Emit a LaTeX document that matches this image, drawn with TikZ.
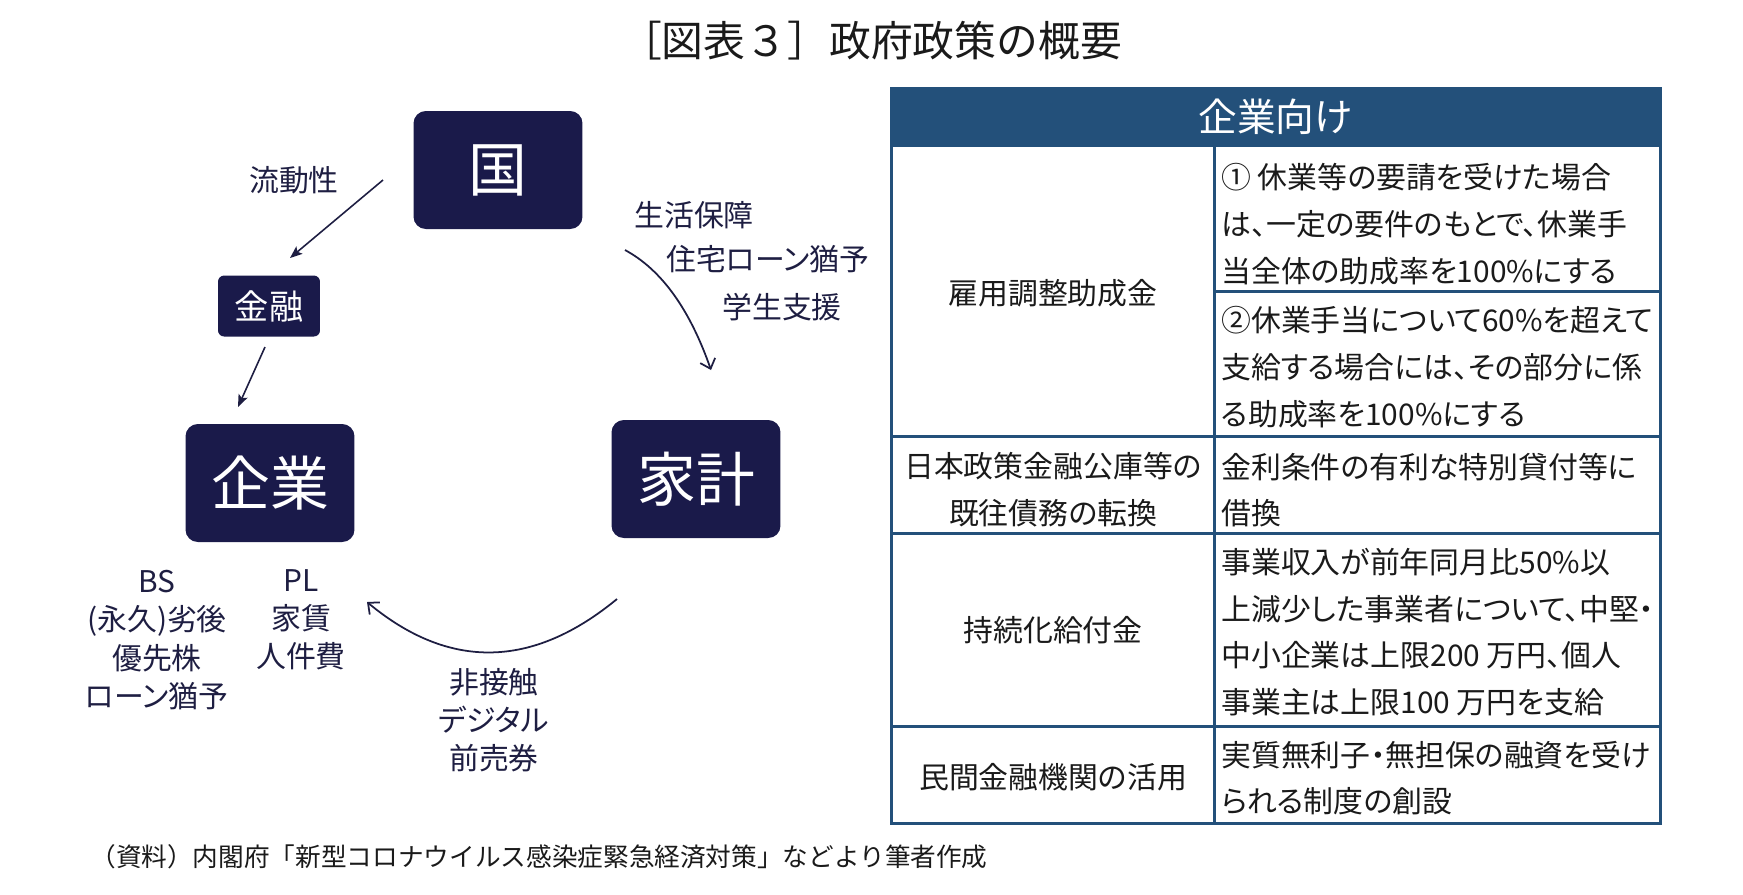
\documentclass[tikz,border=0pt]{standalone}
\usepackage{fontspec}
\setmainfont{Noto Sans CJK JP}[RawFeature=+palt]
\newfontfamily\ttlfont{Noto Sans CJK JP}
\usepackage{xcolor}
\usetikzlibrary{arrows.meta}

\definecolor{boxnavy}{HTML}{1A1A4A}
\definecolor{inknavy}{HTML}{1E1E42}
\definecolor{tblblue}{HTML}{23507A}
\definecolor{tblink}{HTML}{1A1A1A}

\begin{document}
\begin{tikzpicture}[x=0.02cm, y=-0.02cm,
    bigbox/.style={fill=boxnavy, rounded corners=7pt, text=white, minimum width=3.38cm, minimum height=2.36cm, font=\fontsize{33.5}{40}\selectfont},
    smallbox/.style={fill=boxnavy, rounded corners=3.5pt, text=white, minimum width=2.04cm, minimum height=1.22cm, font=\fontsize{19.5}{24}\selectfont},
    lbl/.style={text=inknavy, inner sep=0pt, font=\fontsize{17}{21.7}\selectfont},
    arr/.style={draw=inknavy, line width=0.9pt, -{Stealth[length=7pt, width=5.5pt, inset=1.5pt]}},
    carr/.style={draw=inknavy, line width=1pt, -{Straight Barb[length=5pt, width=9pt]}},
    tblline/.style={draw=tblblue, line width=1.7pt},
    cell/.style={text=tblink, inner sep=0pt, font=\fontsize{17}{26.6}\selectfont}]
    \useasboundingbox (0,0) rectangle (1743,894);

    % title
    \node[text=tblink, font=\ttlfont\fontsize{23.8}{28}\selectfont] (ttl) at (871,41) {［図表３］政府政策の概要};

    % diagram
    \node[bigbox] (gov) at (498,170) {国};
    \node[smallbox] (fin) at (269,306) {金融};
    \node[bigbox] (firm) at (270,483) {企業};
    \node[bigbox] (home) at (696,479) {家計};

    \node[lbl] (liq) at (294,180) {流動性};
    \node[lbl, anchor=west] (life) at (634,215) {生活保障};
    \node[lbl, anchor=west] (hloan) at (666,259) {住宅ローン猶予};
    \node[lbl, anchor=west] (study) at (722,307) {学生支援};
    \node[lbl, align=center] (bs) at (157,640) {BS\\(永久)劣後\\優先株\\ローン猶予};
    \node[lbl, align=center] (pl) at (301,620) {PL\\家賃\\人件費};
    \node[lbl, align=center] (sales) at (494,720) {非接触\\デジタル\\前売券};

    \coordinate (liqtail) at (383,180);
    \coordinate (liqhead) at (290,258);
    \coordinate (fintail) at (265,347);
    \coordinate (finhead) at (238,407);
    \coordinate (suptail) at (625,250);
    \coordinate (suphead) at (711,370);
    \coordinate (saletail) at (617,599);
    \coordinate (salehead) at (367,602);

    \draw[arr] (liqtail) -- (liqhead);
    \draw[arr] (fintail) -- (finhead);
    \draw[carr] (suptail) .. controls (662,270) and (690,310) .. (suphead);
    \draw[carr] (saletail) .. controls (532,669) and (449,670) .. (salehead);

    % table
    \fill[tblblue] (891,88) rectangle (1660,147);
    \node[text=white, font=\fontsize{22}{26}\selectfont] (head) at (1275.5,117) {企業向け};
    \draw[tblline] (891,88) rectangle (1660,823);
    \draw[tblline] (891,436) -- (1660,436);
    \draw[tblline] (891,533) -- (1660,533);
    \draw[tblline] (891,726) -- (1660,726);
    \draw[tblline] (1214,147) -- (1214,823);
    \draw[tblline] (1214,291) -- (1660,291);

    \node[cell] (emp) at (1053,293) {雇用調整助成金};
    \node[cell, align=center] (jfc) at (1053,490) {日本政策金融公庫等の\\既往債務の転換};
    \node[cell] (sus) at (1053,630) {持続化給付金};
    \node[cell] (priv) at (1053,777) {民間金融機関の活用};

    \node[cell, anchor=west, align=left] (empa) at (1221,224) {① 休業等の要請を受けた場合\\は、一定の要件のもとで、休業手\\当全体の助成率を100\%にする};
    \node[cell, anchor=west, align=left] (empb) at (1221,367) {②休業手当について60\%を超えて\\支給する場合には、その部分に係\\る助成率を100\%にする};
    \node[cell, anchor=west, align=left] (jfcb) at (1221,490) {金利条件の有利な特別貸付等に\\借換};
    \node[cell, anchor=west, align=left] (susb) at (1221,632) {事業収入が前年同月比50\%以\\上減少した事業者について、中堅・\\中小企業は上限200 万円、個人\\事業主は上限100 万円を支給};
    \node[cell, anchor=west, align=left] (privb) at (1221,778) {実質無利子・無担保の融資を受け\\られる制度の創設};

    % source
    \node[text=tblink, inner sep=0pt, anchor=west, font=\ttlfont\fontsize{14.6}{18}\selectfont] (src) at (90,857) {（資料）内閣府「新型コロナウイルス感染症緊急経済対策」などより筆者作成};
\end{tikzpicture}
\end{document}
